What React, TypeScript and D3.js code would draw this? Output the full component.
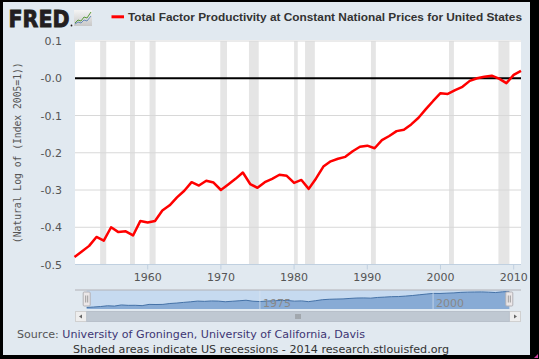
import React from "react";
import * as d3 from "d3";

const startYear = 1950;
const tfp = [
  -0.48, -0.465, -0.45, -0.426, -0.436, -0.4, -0.413, -0.411, -0.422, -0.383,
  -0.387, -0.383, -0.355, -0.341, -0.32, -0.302, -0.279, -0.288, -0.275, -0.28,
  -0.3, -0.285, -0.27, -0.253, -0.284, -0.294, -0.279, -0.27, -0.259, -0.262,
  -0.281, -0.273, -0.297, -0.269, -0.237, -0.223, -0.216, -0.211, -0.196, -0.184,
  -0.181, -0.188, -0.166, -0.155, -0.142, -0.138, -0.124, -0.106, -0.083, -0.061,
  -0.04, -0.042, -0.032, -0.023, -0.007, 0.0, 0.004, 0.007, -0.001, -0.013,
  0.009, 0.02,
];
const recessions: [string, string][] = [
  ["1953-07", "1954-05"],
  ["1957-08", "1958-04"],
  ["1960-04", "1961-02"],
  ["1969-12", "1970-11"],
  ["1973-11", "1975-03"],
  ["1980-01", "1980-07"],
  ["1981-07", "1982-11"],
  ["1990-07", "1991-03"],
  ["2001-03", "2001-11"],
  ["2007-12", "2009-06"],
];
const yTicks = [0.1, 0.0, -0.1, -0.2, -0.3, -0.4, -0.5];
const yTickLabels = ["0.1", "-0.0", "-0.1", "-0.2", "-0.3", "-0.4", "-0.5"];
const xTicks = [1960, 1970, 1980, 1990, 2000, 2010];
const navTicks = [1975, 2000];
const title = "Total Factor Productivity at Constant National Prices for United States";
const yLabel = "(Natural Log of (Index 2005=1))";

const toYear = (s: string) => {
  const [y, m] = s.split("-").map(Number);
  return y + (m - 1) / 12;
};

export default function App() {
  const W = 539, H = 359;
  const L = 75, R = 521, T = 41, B = 264.5;
  const data = tfp.map((v, i) => ({ year: startYear + i, v }));
  const x = d3.scaleLinear().domain([1950, 2011]).range([74.5, 521]);
  const y = d3.scaleLinear().domain([-0.5, 0.1]).range([B, T]);
  const line = d3.line<{ year: number; v: number }>().x((d) => x(d.year)).y((d) => y(d.v));

  const nx = d3.scaleLinear().domain([1950, 2011]).range([86.7, 509.3]);
  const ny = d3.scaleLinear().domain(d3.extent(tfp) as [number, number]).range([307.5, 291.5]);
  const navArea = d3.area<{ year: number; v: number }>().x((d) => nx(d.year)).y0(309).y1((d) => ny(d.v));
  const navLine = d3.line<{ year: number; v: number }>().x((d) => nx(d.year)).y((d) => ny(d.v));

  const font = "'DejaVu Sans', Verdana, sans-serif";
  return (
    <svg width={W} height={H} style={{ position: "absolute", left: 0, top: 0 }} fontFamily={font}>
      <rect x={0} y={0} width={W} height={H} fill="#000" />
      <rect x={3} y={2} width={527} height={353} fill="#e1e9f0" />
      <path d="M538,354 L538,358 L534,358 Z" fill="#d040a0" />
      {/* logo */}
      <text x={8.5} y={27} fontSize={23} fontWeight={900} fill="#231f20" stroke="#231f20" strokeWidth={0.9} textLength={61} lengthAdjust="spacingAndGlyphs">FRED</text>
      <circle cx={71.5} cy={25.5} r={0.9} fill="#231f20" />
      <defs>
        <linearGradient id="ig" x1="0" y1="0" x2="0" y2="1">
          <stop offset="0" stopColor="#f4f4f4" />
          <stop offset="1" stopColor="#c8c8c8" />
        </linearGradient>
      </defs>
      <rect x={74} y={10} width={18} height={16} fill="url(#ig)" />
      <polyline points="75,23 78,20 81,21 84,17 87,18 91,12" fill="none" stroke="#5a9a3a" strokeWidth={1} />
      <polyline points="75,24 78,22 81,23 84,20 87,21 91,16" fill="none" stroke="#4a78b0" strokeWidth={0.8} />
      {/* legend */}
      <line x1={111.5} x2={124} y1={16.8} y2={16.8} stroke="#ff0000" strokeWidth={3} />
      <text x={128} y={21} fontSize={10.6} fontFamily="'Liberation Sans', Arial, sans-serif" fontWeight="bold" fill="#333" textLength={394} lengthAdjust="spacingAndGlyphs">{title}</text>
      {/* plot */}
      <rect x={L} y={T - 1} width={R - L} height={B - T + 1} fill="#fff" />
      {recessions.map(([a, b], i) => (
        <rect key={i} x={x(toYear(a))} y={T} width={x(toYear(b)) - x(toYear(a))} height={B - T} fill="#e5e5e5" />
      ))}
      {yTicks.map((t, i) =>
        t === 0 ? null : (
          <line key={i} x1={L} x2={R} y1={y(t)} y2={y(t)} stroke="#d8d8d8" strokeWidth={1} />
        )
      )}
      <line x1={L} x2={R} y1={y(0)} y2={y(0)} stroke="#000" strokeWidth={2} />
      {yTicks.map((t, i) => (
        <text key={i} x={62} y={y(t) + 4} fontSize={11} fill="#555" textAnchor="end">{yTickLabels[i]}</text>
      ))}
      <text transform={`translate(21,${(T + B) / 2}) rotate(-90)`} fontSize={9.7} fontFamily="'DejaVu Sans Mono', monospace" fill="#555" textAnchor="middle">{yLabel}</text>
      <line x1={L} x2={R} y1={B} y2={B} stroke="#c0d0e0" strokeWidth={1} />
      {xTicks.map((t) => (
        <g key={t}>
          <line x1={x(t)} x2={x(t)} y1={B} y2={B + 5} stroke="#c0d0e0" />
          <text x={x(t)} y={281} fontSize={11} fill="#555" textAnchor="middle">{t}</text>
        </g>
      ))}
      <path d={line(data) || ""} fill="none" stroke="#ff0000" strokeWidth={2.5} strokeLinejoin="round" />
      {/* navigator */}
      <rect x={nx(1950)} y={290} width={nx(2011) - nx(1950)} height={19} fill="#c6daf0" />
      <path d={navArea(data) || ""} fill="#88abd5" />
      <path d={navLine(data) || ""} fill="none" stroke="#4572a7" strokeWidth={1} />
      {navTicks.map((t) => (
        <g key={t}>
          <line x1={nx(t)} x2={nx(t)} y1={290} y2={309} stroke="#dbe6f2" strokeWidth={1} opacity={0.7} />
          <text x={nx(t) + 3} y={307} fontSize={11} fill="#888">{t}</text>
        </g>
      ))}
      <line x1={L} x2={R} y1={290} y2={290} stroke="#b2b1b6" strokeWidth={1} />
      {[nx(1950), nx(2011)].map((hx, i) => (
        <g key={i}>
          <rect x={hx - 3.5} y={292} width={7} height={14} fill="#ebe7e8" stroke="#b2b1b6" strokeWidth={1} rx={1} />
          <line x1={hx - 1} x2={hx - 1} y1={295.5} y2={302.5} stroke="#888" strokeWidth={0.8} />
          <line x1={hx + 1} x2={hx + 1} y1={295.5} y2={302.5} stroke="#888" strokeWidth={0.8} />
        </g>
      ))}
      {/* scrollbar */}
      <rect x={L + 0.5} y={311.5} width={R - L - 1} height={10} fill="#eeeeee" stroke="#d0d0d0" />
      <rect x={nx(1950)} y={311.5} width={nx(2011) - nx(1950)} height={10} fill="#bfc8d2" stroke="#b8c0ca" />
      <path d={`M${L + 7},314.5 L${L + 4},316.5 L${L + 7},318.5 Z`} fill="#666" />
      <path d={`M${R - 7},314.5 L${R - 4},316.5 L${R - 7},318.5 Z`} fill="#666" />
      {[-2, 0, 2].map((o) => (
        <line key={o} x1={(nx(1950) + nx(2011)) / 2 + o} x2={(nx(1950) + nx(2011)) / 2 + o} y1={314} y2={319} stroke="#777" strokeWidth={0.8} />
      ))}
      {/* footer */}
      <text x={17} y={338} fontSize={11} textLength={348} lengthAdjust="spacingAndGlyphs">
        <tspan fill="#555">Source: </tspan>
        <tspan fill="#3d3573">University of Groningen, University of California, Davis</tspan>
      </text>
      <text x={73} y={353} fontSize={11} fill="#333" textLength={376} lengthAdjust="spacingAndGlyphs">Shaded areas indicate US recessions - 2014 research.stlouisfed.org</text>
    </svg>
  );
}
